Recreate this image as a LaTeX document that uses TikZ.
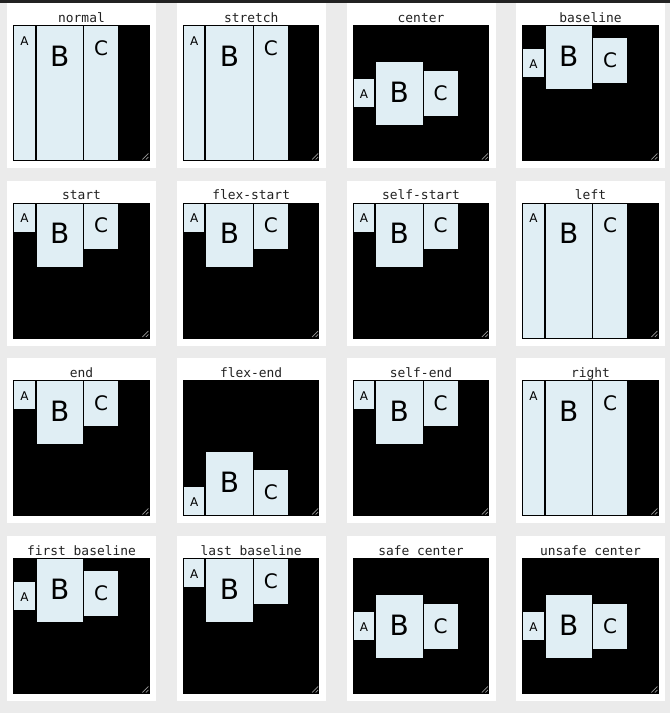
\documentclass[tikz,border=0pt]{standalone}
\usepackage{fontspec}
\newfontfamily\itemfont{DejaVu Sans}
\newfontfamily\titlefont{DejaVu Sans Mono}

\definecolor{pagebg}{RGB}{235,235,235}
\definecolor{topbar}{RGB}{34,34,34}
\definecolor{itembg}{RGB}{224,238,244}
\definecolor{ink}{RGB}{34,34,34}

\tikzset{
  card/.style={fill=white, inner sep=0pt, anchor=north west, minimum width=149pt, minimum height=165pt},
  flexbox/.style={fill=black, inner sep=0pt, anchor=north west, minimum width=136.5pt, minimum height=136pt},
  paneltitle/.style={anchor=base, inner sep=0pt, text=ink, font=\titlefont\fontsize{12.9}{13}\selectfont},
  itemA/.style={fill=itembg, inner sep=0pt, anchor=north west, minimum width=20.5pt, minimum height=28pt},
  itemB/.style={fill=itembg, inner sep=0pt, anchor=north west, minimum width=46.5pt, minimum height=63pt},
  itemC/.style={fill=itembg, inner sep=0pt, anchor=north west, minimum width=34pt, minimum height=45pt},
  tall/.style={minimum height=134pt},
  tagA/.style={anchor=base, inner sep=0pt, yshift=-19pt, font=\itemfont\fontsize{12}{12}\selectfont},
  tagB/.style={anchor=base, inner sep=0pt, yshift=-40pt, font=\itemfont\fontsize{28}{28}\selectfont},
  tagC/.style={anchor=base, inner sep=0pt, yshift=-29pt, font=\itemfont\fontsize{20}{20}\selectfont},
  grip/.style={draw=gray!80, line width=0.7pt}
}

% [item style]{x}{y}{name}{title}{A top}{B top}{C top}
\newcommand\flexpanel[8][]{%
  \node[card] (#4) at (#2,#3) {};
  \node[paneltitle] (#4t) at ({#2+74.5},{#3+19}) {#5};
  \node[flexbox] (#4b) at ({#2+6},{#3+22}) {};
  \node[itemA,#1,label={[tagA]north:A}] (#4a) at ({#2+7},{#3+22+#6}) {};
  \node[itemB,#1,label={[tagB]north:B}] (#4c) at ({#2+29.3},{#3+22+#7}) {};
  \node[itemC,#1,label={[tagC]north:C}] (#4d) at ({#2+77},{#3+22+#8}) {};
  \draw[grip] ([xshift=-7.5pt,yshift=2pt]#4b.south east) -- ++(6,-6);
  \draw[grip] ([xshift=-4pt,yshift=2pt]#4b.south east) -- ++(2.5,-2.5);
}

\begin{document}
\begin{tikzpicture}[x=1pt,y=-1pt]
\useasboundingbox (0,0) rectangle (670,713);
\fill[pagebg] (0,0) rectangle (670,713);
\fill[topbar] (0,0) rectangle (670,3);

% row 1
\flexpanel[tall]{7}{3}{normal}{normal}{1}{1}{1}
\flexpanel[tall]{176.7}{3}{stretch}{stretch}{1}{1}{1}
\flexpanel{346.5}{3}{center}{center}{54}{37}{46}
\flexpanel{516}{3}{baseline}{baseline}{24}{1}{13}

% row 2
\flexpanel{7}{180.5}{start}{start}{1}{1}{1}
\flexpanel{176.7}{180.5}{fstart}{flex-start}{1}{1}{1}
\flexpanel{346.5}{180.5}{sstart}{self-start}{1}{1}{1}
\flexpanel[tall]{516}{180.5}{left}{left}{1}{1}{1}

% row 3
\flexpanel{7}{358}{end}{end}{1}{1}{1}
\flexpanel{176.7}{358}{fend}{flex-end}{107}{72}{90}
\flexpanel{346.5}{358}{send}{self-end}{1}{1}{1}
\flexpanel[tall]{516}{358}{right}{right}{1}{1}{1}

% row 4
\flexpanel{7}{536}{fbase}{first baseline}{24}{1}{13}
\flexpanel{176.7}{536}{lbase}{last baseline}{1}{1}{1}
\flexpanel{346.5}{536}{scenter}{safe center}{54}{37}{46}
\flexpanel{516}{536}{ucenter}{unsafe center}{54}{37}{46}
\end{tikzpicture}
\end{document}
